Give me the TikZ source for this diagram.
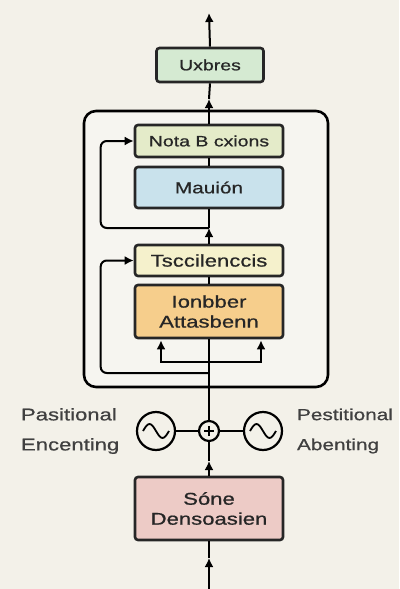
\documentclass[tikz,border=0pt]{standalone}
\usepackage{fontspec}
\setmainfont{Liberation Sans}
\newfontfamily\wide[FakeStretch=1.3,FakeBold=0.8]{Liberation Sans}
\usetikzlibrary{arrows.meta}

\definecolor{bgcream}{HTML}{F3F1E9}
\definecolor{boxin}{HTML}{F6F5F0}
\definecolor{outgreen}{HTML}{D5EAD2}
\definecolor{normgreen}{HTML}{E4EBC9}
\definecolor{ffblue}{HTML}{C9E2EC}
\definecolor{normyel}{HTML}{F5F1CC}
\definecolor{attorange}{HTML}{F6CE8C}
\definecolor{embpink}{HTML}{EDCBC6}

\tikzset{
	blk/.style={draw=black!85, line width=2.6pt, rounded corners=3pt, minimum width=148pt, align=center, inner sep=1pt, text=black!85, font=\wide\fontsize{17}{20}\selectfont},
	wave/.style={circle, draw, line width=2.2pt, minimum size=38pt, inner sep=0pt},
	lbl/.style={align=left, text=black!75, inner sep=0pt, font=\wide\fontsize{17}{30}\selectfont},
}

\begin{document}
\begin{tikzpicture}[x=1pt,y=-1pt,line width=2pt,>={Latex[length=9pt,width=9pt]}]
	\fill[bgcream] (0,0) rectangle (399,589);
	\useasboundingbox (0,0) rectangle (399,589);
	\draw[rounded corners=12pt,line width=2.6pt,fill=boxin] (84,111) rectangle (328,387);

	\node[blk,fill=outgreen,minimum width=107pt,minimum height=34pt,font=\wide\fontsize{15}{16}\selectfont](out) at (210,65) {Uxbres};
	\node[blk,fill=normgreen,minimum height=32pt,font=\wide\fontsize{15}{16}\selectfont](norm2) at (209,141) {Nota B cxions};
	\node[blk,fill=ffblue,minimum height=41pt,font=\wide\fontsize{16}{17}\selectfont](ff) at (209,187.5) {Mauión};
	\node[blk,fill=normyel,minimum height=31pt](norm1) at (209,260.5) {Tsccilenccis};
	\node[blk,fill=attorange,minimum height=53pt](att) at (209,311.5) {Ionbber\\Attasbenn};
	\node[blk,fill=embpink,minimum height=63pt](emb) at (209,508.5) {Sóne\\Densoasien};

	\node[circle,draw,line width=2.2pt,minimum size=20pt,inner sep=0pt](add) at (209,431) {};
	\node[wave](pl) at (156,431) {};
	\node[wave](pr) at (263,431) {};

	\node[lbl,anchor=west](labl) at (20,431) {Pasitional\\Encenting};
	\node[lbl,anchor=west,font=\wide\fontsize{16}{30}\selectfont](labr) at (296,431) {Pestitional\\Abenting};

	\coordinate (in) at (209,589);
	\coordinate (inmid) at (209,558);
	\coordinate (embup) at (209,461);
	\coordinate (res1) at (209,373);
	\coordinate (split) at (209,362);
	\coordinate (res2) at (209,228);
	\coordinate (outmid) at (209,99);
	\coordinate (top) at (209,13);

	% main line
	\draw[->] (in) -- (inmid);
	\draw (inmid) -- (emb.south);
	\draw[->] (emb.north) -- (embup);
	\draw (embup) -- (add.south);
	\draw (add.north) -- (att.south);
	\draw (att.north) -- (norm1.south);
	\draw[->] (norm1.north) -- (res2);
	\draw (res2) -- (ff.south);
	\draw (ff.north) -- (norm2.south);
	\draw[->] (norm2.north) -- (outmid);
	\draw (outmid) -- (out.south);
	\draw[->] (out.north) -- (top);

	% split into attention
	\draw[->] (split) -| ([xshift=-48pt,yshift=-1pt]att.south);
	\draw[->] (split) -| ([xshift=52pt,yshift=-1pt]att.south);

	% residuals
	\draw[->,rounded corners=6pt] (res1) -| ([xshift=-33pt]norm1.west) -- (norm1.west);
	\draw[->,rounded corners=6pt] (res2) -| ([xshift=-33pt]norm2.west) -- (norm2.west);

	% positional parts
	\draw (pl) -- (add) -- (pr);
	\draw[line width=1.6pt] ([xshift=-5pt]add.center) -- ([xshift=5pt]add.center);
	\draw[line width=1.6pt] ([yshift=-5pt]add.center) -- ([yshift=5pt]add.center);
	\draw[line width=1.8pt] ([xshift=-13pt]pl.center) sin ++(6.5,-7) cos ++(6.5,7) sin ++(6.5,7) cos ++(6.5,-7);
	\draw[line width=1.8pt] ([xshift=-13pt]pr.center) sin ++(6.5,-7) cos ++(6.5,7) sin ++(6.5,7) cos ++(6.5,-7);
\end{tikzpicture}
\end{document}
